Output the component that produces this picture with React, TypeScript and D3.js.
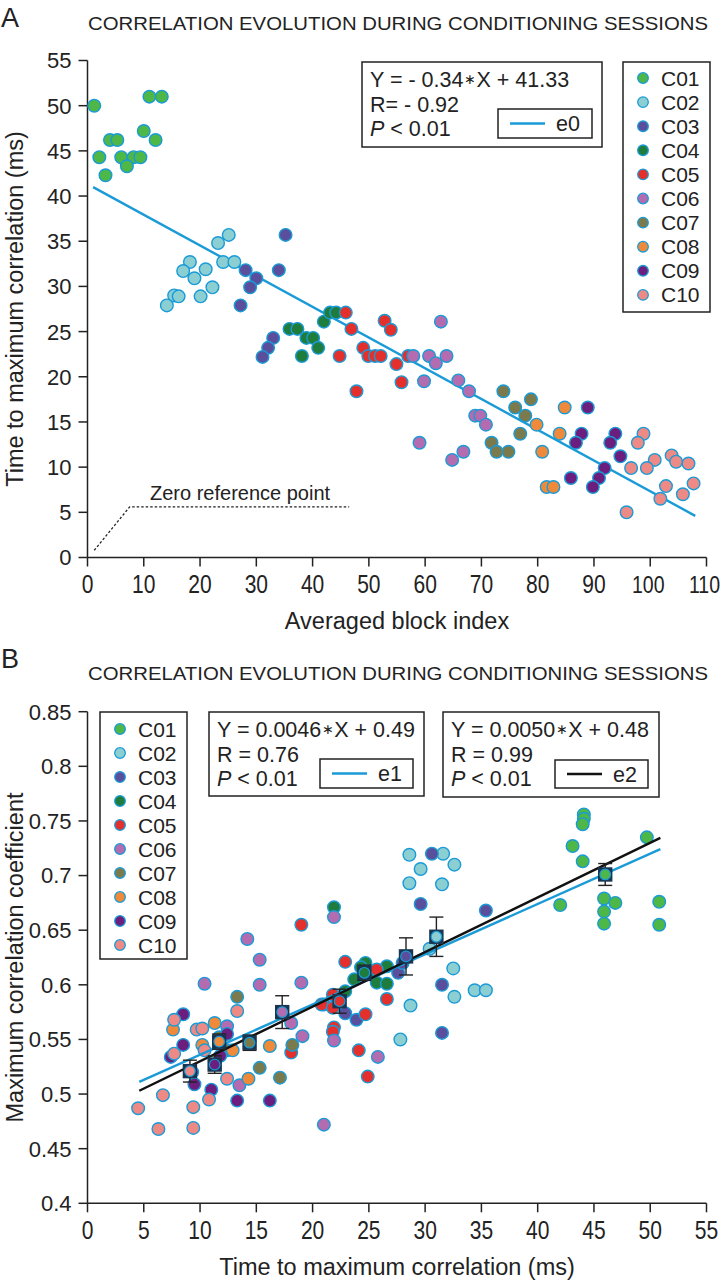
import React from "react";
import * as d3 from "d3";

// ---------- shared ----------
const sessions = ["C01", "C02", "C03", "C04", "C05", "C06", "C07", "C08", "C09", "C10"];
const sessionColors = ["#4db848", "#8ccfd3", "#5a4f9c", "#1e7d3d", "#e3302c", "#b36cb0", "#7b7a4c", "#f08a3b", "#6b1e7e", "#ee8a85"];
const titleText = "CORRELATION EVOLUTION DURING CONDITIONING SESSIONS";

// ---------- panel A : [averaged block index, time to max correlation (ms)] ----------
const aC01 = [[1.2, 50.0], [11.0, 51.0], [13.2, 51.0], [10.0, 47.2], [12.1, 46.2], [4.0, 46.2], [5.3, 46.2], [2.1, 44.3], [6.0, 44.3], [8.2, 44.3], [9.4, 44.3], [7.0, 43.3], [3.2, 42.3]];
const aC02 = [[25.1, 35.7], [23.2, 34.8], [24.1, 32.7], [26.1, 32.7], [18.2, 32.7], [17.0, 31.7], [21.0, 31.9], [19.0, 30.9], [22.2, 29.9], [20.1, 28.9], [15.4, 29.0], [16.2, 28.9], [14.1, 27.9]];
const aC03 = [[35.2, 35.7], [34.0, 31.8], [28.1, 31.8], [30.0, 30.9], [28.9, 29.9], [27.2, 27.9], [33.0, 24.3], [32.1, 23.2], [31.1, 22.2]];
const aC04 = [[35.9, 25.3], [37.3, 25.3], [38.9, 24.3], [40.1, 24.3], [41.0, 23.2], [38.1, 22.3], [42.0, 26.1], [43.1, 27.1], [44.2, 27.1]];
const aC05 = [[45.9, 27.1], [46.9, 25.3], [49.0, 23.2], [49.9, 22.3], [51.1, 22.3], [52.1, 22.3], [44.8, 22.3], [52.8, 26.2], [53.9, 25.2], [54.9, 21.4], [55.8, 19.4], [47.8, 18.4], [57.0, 22.3]];
const aC06 = [[57.9, 22.3], [62.8, 26.1], [60.7, 22.3], [61.9, 21.5], [63.8, 22.3], [59.8, 19.5], [59.0, 12.7], [65.9, 19.6], [67.8, 18.4], [68.9, 15.7], [69.8, 15.7], [70.8, 14.7], [66.8, 11.7], [64.8, 10.8]];
const aC07 = [[73.9, 18.4], [76.0, 16.6], [78.8, 17.5], [77.8, 15.7], [76.9, 13.7], [71.8, 12.7], [72.7, 11.7], [74.8, 11.7]];
const aC08 = [[84.8, 16.6], [79.8, 14.7], [83.9, 13.7], [80.8, 11.7], [81.6, 7.8], [82.8, 7.8]];
const aC09 = [[88.9, 16.6], [87.8, 13.7], [86.8, 12.7], [93.8, 13.7], [92.9, 12.7], [94.7, 11.2], [91.9, 9.9], [90.9, 8.8], [89.8, 7.8], [85.9, 8.8]];
const aC10 = [[98.8, 13.7], [97.8, 12.7], [100.8, 10.8], [99.4, 9.9], [96.6, 9.9], [103.8, 11.3], [104.6, 10.6], [106.8, 10.4], [107.7, 8.2], [102.8, 7.9], [105.8, 7.0], [101.8, 6.5], [95.8, 5.0]];
const panelAData = [aC01, aC02, aC03, aC04, aC05, aC06, aC07, aC08, aC09, aC10];
const fitA = { slope: -0.34, intercept: 41.33, from: 1, to: 108 };
const eqA = [["Y = - 0.34", "X + 41.33"], "R= - 0.92", "< 0.01"];
const xTicksA = [0, 10, 20, 30, 40, 50, 60, 70, 80, 90, 100, 110];
const yTicksA = [0, 5, 10, 15, 20, 25, 30, 35, 40, 45, 50, 55];
const zeroRefPath = [[1.2, 0.8], [7.5, 5.6], [46.5, 5.6]];

// ---------- panel B : [time to max correlation (ms), max correlation coefficient] ----------
const bC01 = [[44.1, 0.756], [44.1, 0.752], [44.0, 0.747], [49.7, 0.735], [43.1, 0.727], [44.0, 0.713], [42.0, 0.673], [45.9, 0.679], [46.9, 0.675], [45.9, 0.667], [45.9, 0.656], [50.8, 0.676], [50.8, 0.655]];
const bC02 = [[28.6, 0.719], [31.6, 0.720], [29.6, 0.706], [32.6, 0.710], [28.6, 0.693], [31.5, 0.692], [30.4, 0.633], [32.5, 0.615], [34.4, 0.595], [35.4, 0.595], [32.6, 0.589], [28.7, 0.581], [27.8, 0.550]];
const bC03 = [[30.6, 0.720], [29.6, 0.674], [35.4, 0.668], [27.6, 0.611], [31.5, 0.600], [22.9, 0.574], [23.9, 0.568], [31.5, 0.556], [28.0, 0.620]];
const bC04 = [[21.9, 0.671], [24.7, 0.620], [26.6, 0.617], [23.7, 0.605], [25.7, 0.602], [26.6, 0.601], [22.9, 0.594], [25.0, 0.612], [24.3, 0.616]];
const bC05 = [[19.0, 0.655], [22.9, 0.621], [21.9, 0.561], [21.0, 0.582], [25.7, 0.614], [26.6, 0.587], [21.8, 0.591], [20.8, 0.582], [21.8, 0.579], [24.7, 0.573], [21.8, 0.557], [24.1, 0.540], [24.9, 0.516], [18.1, 0.538]];
const bC06 = [[14.2, 0.642], [21.9, 0.662], [15.3, 0.623], [10.4, 0.601], [15.3, 0.600], [19.0, 0.602], [12.4, 0.562], [18.1, 0.565], [19.1, 0.553], [21.9, 0.549], [25.8, 0.534], [13.5, 0.508], [21.0, 0.472]];
const bC07 = [[13.3, 0.589], [15.3, 0.524], [17.1, 0.515], [18.2, 0.545], [12.4, 0.540], [14.4, 0.548], [11.7, 0.552]];
const bC08 = [[14.3, 0.514], [7.6, 0.559], [11.3, 0.565], [16.2, 0.544], [12.9, 0.540], [10.2, 0.545]];
const bC09 = [[13.3, 0.494], [16.2, 0.494], [11.0, 0.504], [9.5, 0.509], [7.4, 0.534], [8.5, 0.573], [8.5, 0.545], [12.4, 0.555], [11.8, 0.535], [9.3, 0.520]];
const bC10 = [[4.5, 0.487], [6.3, 0.468], [9.4, 0.488], [9.4, 0.469], [10.8, 0.495], [6.7, 0.499], [12.4, 0.514], [7.7, 0.537], [10.4, 0.540], [13.3, 0.576], [7.7, 0.568], [9.7, 0.559], [10.2, 0.560]];
const panelBData = [bC01, bC02, bC03, bC04, bC05, bC06, bC07, bC08, bC09, bC10];
const meanX = [46.0, 31.0, 28.3, 24.6, 22.4, 17.3, 14.4, 11.7, 11.3, 9.1];
const meanY = [0.701, 0.644, 0.626, 0.611, 0.585, 0.575, 0.547, 0.548, 0.527, 0.521];
const meanErr = [0.010, 0.018, 0.017, 0.007, 0.011, 0.015, 0.007, 0.007, 0.008, 0.010];
const fitB1 = { slope: 0.0046, intercept: 0.49, from: 4.6, to: 50.9 };
const fitB2 = { slope: 0.005, intercept: 0.48, from: 4.6, to: 50.9 };
const eqB1 = [["Y = 0.0046", "X + 0.49"], "R = 0.76", "< 0.01"];
const eqB2 = [["Y = 0.0050", "X + 0.48"], "R = 0.99", "< 0.01"];
const xTicksB = [0, 5, 10, 15, 20, 25, 30, 35, 40, 45, 50, 55];
const yTicksB = [0.4, 0.45, 0.5, 0.55, 0.6, 0.65, 0.7, 0.75, 0.8, 0.85];

// ---------- styling ----------
const FONT = "'Liberation Sans', Arial, Helvetica, sans-serif";
const INK = "#222";
const BLUE = "#1a9bd7";
const R = 6.3;

const xA = d3.scaleLinear().domain([0, 110]).range([87.5, 706.5]);
const yA = d3.scaleLinear().domain([0, 55]).range([557.5, 60.5]);
const xB = d3.scaleLinear().domain([0, 55]).range([87.5, 706.5]);
const yB = d3.scaleLinear().domain([0.4, 0.85]).range([1203.3, 711.7]);

function fmt(v: number) {
  return String(+v.toFixed(2));
}

function Axes({ x, y, xTicks, yTicks }: any) {
  const [x0, x1] = x.range();
  const [y0, y1] = y.range();
  return (
    <g stroke={INK} strokeWidth={1.5} fill="none">
      <line x1={x0} x2={x0} y1={y0} y2={y1} />
      <line x1={x0} x2={x1} y1={y0} y2={y0} />
      {yTicks.map((t: number) => (
        <g key={"y" + t}>
          <line x1={x0 - 9} x2={x0} y1={y(t)} y2={y(t)} />
          <text x={x0 - 16} y={y(t)} dy="0.36em" textAnchor="end" fill={INK} stroke="none" fontSize={22} fontFamily={FONT}>
            {fmt(t)}
          </text>
        </g>
      ))}
      {xTicks.map((t: number) => {
        const label = fmt(t);
        const fs = label.length > 2 ? 19.5 : 21;
        const shift = label.length > 2 ? -2 : 0;
        return (
          <g key={"x" + t} transform={`translate(${x(t)},${y0})`}>
            <line x1={0} x2={0} y1={0} y2={9} />
            <text transform="scale(1,1.25)" x={shift} y={28.5} textAnchor="middle" fill={INK} stroke="none" fontSize={fs} fontFamily={FONT}>
              {label}
            </text>
          </g>
        );
      })}
    </g>
  );
}

function Dots({ data, x, y }: any) {
  return (
    <g>
      {data.map((pts: number[][], i: number) =>
        pts.map((p, j) => (
          <circle key={i + "-" + j} cx={x(p[0])} cy={y(p[1])} r={R} fill={sessionColors[i]} stroke={BLUE} strokeWidth={1.4} />
        ))
      )}
    </g>
  );
}

function FitLine({ fit, x, y, color }: any) {
  const line = d3.line<number>().x((d) => x(d)).y((d) => y(fit.slope * d + fit.intercept));
  return <path d={line([fit.from, fit.to]) || ""} stroke={color} strokeWidth={2.4} fill="none" />;
}

function EqBox({ left, top, width, height, lines, key2, color, inner }: any) {
  return (
    <g fontFamily={FONT} fontSize={21.5} fill={INK}>
      <rect x={left} y={top} width={width} height={height} fill="#fff" stroke={INK} strokeWidth={1.5} />
      <text x={left + 8} y={top + 25}>
        {lines[0][0]}
        <tspan fontSize={14} dx={1} dy={-3}>{"\u2217"}</tspan>
        <tspan dy={3}>{lines[0][1]}</tspan>
      </text>
      <text x={left + 8} y={top + 50}>{lines[1]}</text>
      <text x={left + 8} y={top + 74}>
        <tspan fontStyle="italic">P</tspan> {lines[2]}
      </text>
      <rect x={inner.x} y={inner.y} width={inner.w} height={inner.h} fill="#fff" stroke={INK} strokeWidth={1.5} />
      <line x1={inner.x + 12} x2={inner.x + 47} y1={inner.y + inner.h / 2} y2={inner.y + inner.h / 2} stroke={color} strokeWidth={2.4} />
      <text x={inner.x + 58} y={inner.y + inner.h / 2 + 7.5}>{key2}</text>
    </g>
  );
}

function Legend({ left, top, width, height, firstY, step }: any) {
  return (
    <g fontFamily={FONT} fontSize={21} fill={INK}>
      <rect x={left} y={top} width={width} height={height} fill="#fff" stroke={INK} strokeWidth={1.5} />
      {sessions.map((s, i) => (
        <g key={s}>
          <circle cx={left + 20} cy={firstY + i * step} r={5.3} fill={sessionColors[i]} stroke={BLUE} strokeWidth={1.3} />
          <text x={left + 38} y={firstY + i * step + 7.5}>{s}</text>
        </g>
      ))}
    </g>
  );
}

export default function App() {
  const zeroLine = d3.line<number[]>().x((d) => xA(d[0])).y((d) => yA(d[1]));
  return (
    <svg width={721} height={1280} viewBox="0 0 721 1280" style={{ position: "absolute", left: 0, top: 0, background: "#fff" }}>
      <rect x={0} y={0} width={721} height={1280} fill="#fff" />
      {/* ================= PANEL A ================= */}
      <text x={1} y={27} fontFamily={FONT} fontSize={27} fill={INK}>A</text>
      <text x={88} y={30} fontFamily={FONT} fontSize={19} fill={INK} textLength={620} lengthAdjust="spacingAndGlyphs">{titleText}</text>
      <Axes x={xA} y={yA} xTicks={xTicksA} yTicks={yTicksA} />
      <text transform={`translate(23,${(yA(0) + yA(55)) / 2}) rotate(-90)`} textAnchor="middle" fontFamily={FONT} fontSize={23.5} fill={INK}>
        Time to maximum correlation (ms)
      </text>
      <text x={(xA(0) + xA(110)) / 2} y={629} textAnchor="middle" fontFamily={FONT} fontSize={23.5} fill={INK}>
        Averaged block index
      </text>
      <path d={zeroLine(zeroRefPath) || ""} stroke={INK} strokeWidth={1.3} strokeDasharray="2.5,2" fill="none" />
      <text x={150} y={500} fontFamily={FONT} fontSize={20} fill={INK}>Zero reference point</text>
      <FitLine fit={fitA} x={xA} y={yA} color={BLUE} />
      <Dots data={panelAData} x={xA} y={yA} />
      <EqBox left={362} top={62} width={240} height={85} lines={eqA} key2="e0" color={BLUE} inner={{ x: 498, y: 109, w: 94, h: 29 }} />
      <Legend left={623} top={62} width={87} height={250} firstY={78} step={24.1} />

      {/* ================= PANEL B ================= */}
      <text x={1} y={668} fontFamily={FONT} fontSize={27} fill={INK}>B</text>
      <text x={88} y={680} fontFamily={FONT} fontSize={19} fill={INK} textLength={620} lengthAdjust="spacingAndGlyphs">{titleText}</text>
      <Axes x={xB} y={yB} xTicks={xTicksB} yTicks={yTicksB} />
      <text transform={`translate(23,${(yB(0.4) + yB(0.85)) / 2}) rotate(-90)`} textAnchor="middle" fontFamily={FONT} fontSize={23.5} fill={INK}>
        Maximum correlation coefficient
      </text>
      <text x={(xB(0) + xB(55)) / 2} y={1275} textAnchor="middle" fontFamily={FONT} fontSize={23.5} fill={INK}>
        Time to maximum correlation (ms)
      </text>
      <Dots data={panelBData} x={xB} y={yB} />
      <FitLine fit={fitB1} x={xB} y={yB} color={BLUE} />
      <FitLine fit={fitB2} x={xB} y={yB} color="#111" />
      <g>
        {meanX.map((mx, i) => {
          const cx = xB(mx);
          const cy = yB(meanY[i]);
          const top = yB(meanY[i] + meanErr[i]);
          const bot = yB(meanY[i] - meanErr[i]);
          return (
            <g key={"m" + i} stroke="#222" strokeWidth={1.4}>
              <line x1={cx} x2={cx} y1={top} y2={bot} />
              <line x1={cx - 7} x2={cx + 7} y1={top} y2={top} />
              <line x1={cx - 7} x2={cx + 7} y1={bot} y2={bot} />
              <rect x={cx - 6.5} y={cy - 6.5} width={13} height={13} fill="#1a3550" stroke="#1a3550" />
              <circle cx={cx} cy={cy} r={5.3} fill={sessionColors[i]} stroke={BLUE} strokeWidth={1.2} />
            </g>
          );
        })}
      </g>
      <Legend left={100} top={712} width={87} height={247} firstY={729} step={24} />
      <EqBox left={209} top={712} width={215} height={84} lines={eqB1} key2="e1" color={BLUE} inner={{ x: 320, y: 759, w: 93, h: 29 }} />
      <EqBox left={443} top={712} width={216} height={85} lines={eqB2} key2="e2" color="#111" inner={{ x: 555, y: 760, w: 93, h: 28 }} />
    </svg>
  );
}
